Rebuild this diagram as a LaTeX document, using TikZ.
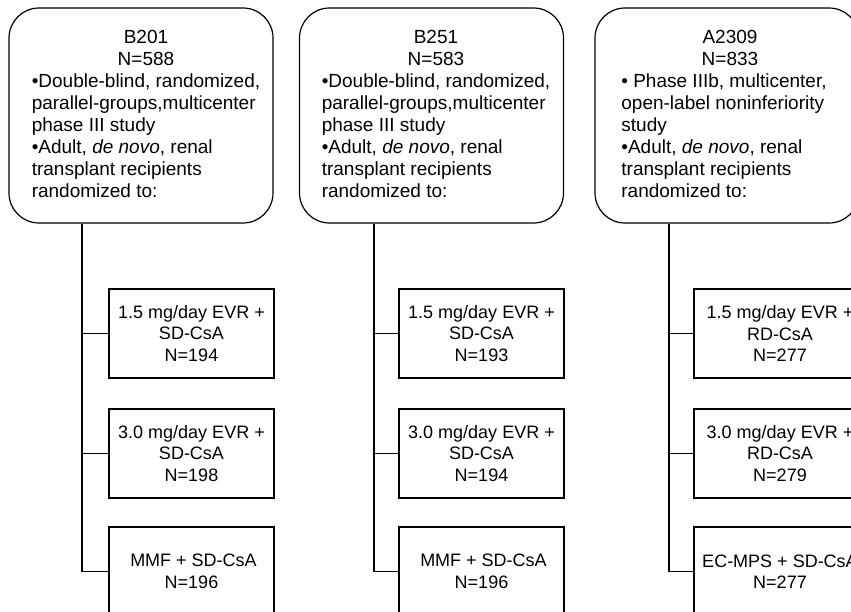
\documentclass[tikz,border=0pt]{standalone}
\usepackage{fontspec}
\setmainfont{Liberation Sans}
\newcommand\dfont{\fontsize{19pt}{22pt}\selectfont}
\newcommand\afont{\fontsize{18pt}{21.5pt}\selectfont}
\begin{document}
\begin{tikzpicture}[x=1pt,y=-1pt,
  line width=1.2pt,
  study/.style={draw, rounded corners=30pt, minimum width=264pt, minimum height=215pt, inner sep=0pt},
  studytext/.style={inner sep=0pt, font=\dfont},
  arm/.style={draw, minimum width=165pt, minimum height=89pt, inner sep=0pt, align=center, font=\afont},
  widearm/.style={arm, minimum width=172pt},
  link/.style={draw}]
\useasboundingbox (0,0) rectangle (851,611);
\clip (0,0) rectangle (851,611);
\fill[white] (0,0) rectangle (851,611);

% ---- study boxes
\node[study] (s1) at (141,115.5) {};
\node[study] (s2) at (431.5,115.5) {};
\node[study] (s3) at (727,115.5) {};

\node[studytext] (t1) at (146,116) {\begin{tabular}{@{}l@{}}
\multicolumn{1}{@{}c@{}}{B201}\\
\multicolumn{1}{@{}c@{}}{N=588}\\
•Double-blind, randomized,\\
parallel-groups,multicenter\\
phase III study\\
•Adult, \textit{de novo}, renal\\
transplant recipients\\
randomized to:
\end{tabular}};

\node[studytext] (t2) at (436,116) {\begin{tabular}{@{}l@{}}
\multicolumn{1}{@{}c@{}}{B251}\\
\multicolumn{1}{@{}c@{}}{N=583}\\
•Double-blind, randomized,\\
parallel-groups,multicenter\\
phase III study\\
•Adult, \textit{de novo}, renal\\
transplant recipients\\
randomized to:
\end{tabular}};

\node[studytext] (t3) at (724,116) {\begin{tabular}{@{}l@{}}
\multicolumn{1}{@{}c@{}}{\hspace{12pt}A2309}\\
\multicolumn{1}{@{}c@{}}{\hspace{12pt}N=833}\\
• Phase IIIb, multicenter,\\
open-label noninferiority\\
study\\
•Adult, \textit{de novo}, renal\\
transplant recipients\\
randomized to:
\end{tabular}};

% ---- arm boxes
\node[arm] (a11) at (191.5,333.5) {1.5 mg/day EVR +\\SD-CsA\\N=194\hspace{8pt}};
\node[arm] (a12) at (191.5,453.5) {3.0 mg/day EVR +\\SD-CsA\\N=198\hspace{8pt}};
\node[arm] (a13) at (191.5,571.5) {\hspace{4pt}MMF + SD-CsA\\N=196\hspace{9pt}};

\node[arm] (a21) at (481.5,333.5) {1.5 mg/day EVR +\\SD-CsA\\N=193\hspace{8pt}};
\node[arm] (a22) at (481.5,453.5) {3.0 mg/day EVR +\\SD-CsA\\N=194\hspace{8pt}};
\node[arm] (a23) at (481.5,571.5) {\hspace{4pt}MMF + SD-CsA\\N=196\hspace{9pt}};

\node[widearm] (a31) at (780,333.5) {1.5 mg/day EVR +\\RD-CsA\\N=277};
\node[widearm] (a32) at (780,453.5) {3.0 mg/day EVR +\\RD-CsA\\N=279};
\node[widearm] (a33) at (780,571.5) {EC-MPS + SD-CsA\\N=277\hspace{32pt}};

% ---- connectors
\coordinate (j1) at (82,0);
\coordinate (j2) at (374,0);
\coordinate (j3) at (669,0);

\draw[link] (s1.south -| j1) |- (a13.west);
\draw[link] (a11.west -| j1) -- (a11.west);
\draw[link] (a12.west -| j1) -- (a12.west);

\draw[link] (s2.south -| j2) |- (a23.west);
\draw[link] (a21.west -| j2) -- (a21.west);
\draw[link] (a22.west -| j2) -- (a22.west);

\draw[link] (s3.south -| j3) |- (a33.west);
\draw[link] (a31.west -| j3) -- (a31.west);
\draw[link] (a32.west -| j3) -- (a32.west);
\end{tikzpicture}
\end{document}
